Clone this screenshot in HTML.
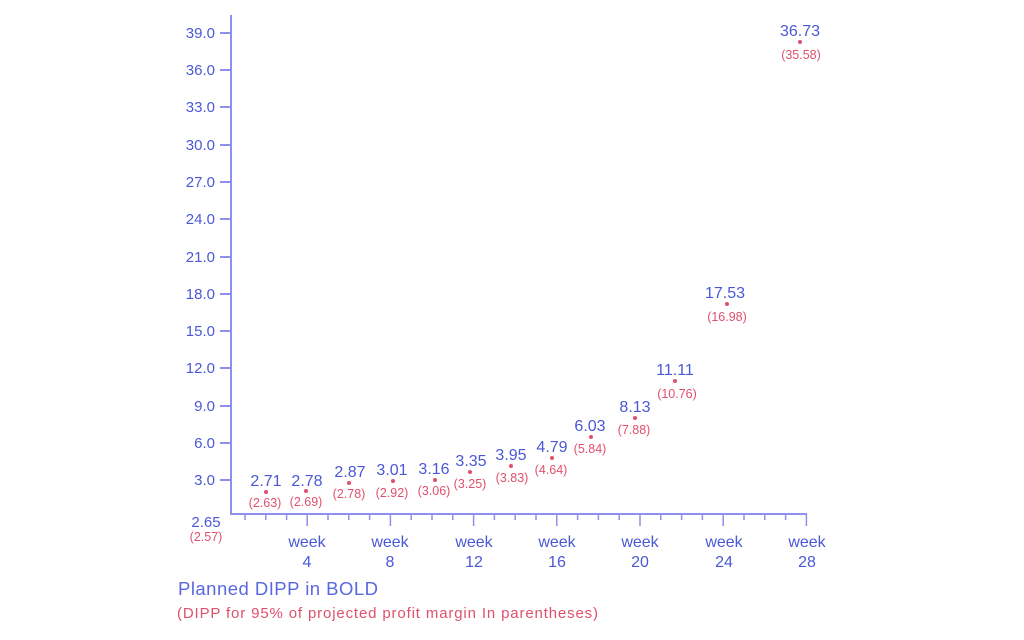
<!DOCTYPE html>
<html><head><meta charset="utf-8"><style>
html,body{margin:0;padding:0;background:#fff;width:1024px;height:640px;overflow:hidden}
svg{display:block;font-family:"Liberation Sans",sans-serif}
.b{fill:#4a58d6;font-size:16px;text-anchor:middle}
.r{fill:#e0506c;font-size:12.5px;text-anchor:middle}
.y{fill:#4a58d6;font-size:15px;text-anchor:end}
.w{fill:#4a58d6;font-size:16px;text-anchor:middle}
</style></head><body>
<svg width="1024" height="640" viewBox="0 0 1024 640">
<g stroke="#8e90ee" stroke-width="2" fill="none">
<path d="M231 15 V514 H807"/>
<path d="M220 33H231M220 70H231M220 107H231M220 145H231M220 182H231M220 219H231M220 257H231M220 294H231M220 331H231M220 368H231M220 406H231M220 443H231M220 480H231"/>
<path stroke-width="1.5" d="M245 514v6M265.8 514v6M286.6 514v6M307.2 514v12M328 514v6M348.8 514v6M369.6 514v6M390.4 514v12M411.2 514v6M432 514v6M452.8 514v6M473.6 514v12M494.4 514v6M515.2 514v6M536 514v6M556.8 514v12M577.6 514v6M598.4 514v6M619.2 514v6M640 514v12M660.8 514v6M681.6 514v6M702.4 514v6M723.2 514v12M744 514v6M764.8 514v6M785.6 514v6M806.4 514v12"/>
</g>
<g class="y">
<text x="215" y="38">39.0</text><text x="215" y="75">36.0</text><text x="215" y="112">33.0</text><text x="215" y="150">30.0</text><text x="215" y="187">27.0</text><text x="215" y="224">24.0</text><text x="215" y="262">21.0</text><text x="215" y="299">18.0</text><text x="215" y="336">15.0</text><text x="215" y="373">12.0</text><text x="215" y="411">9.0</text><text x="215" y="448">6.0</text><text x="215" y="485">3.0</text>
</g>
<text x="206" y="527" class="b" style="font-size:15px">2.65</text>
<text x="206" y="541" class="r">(2.57)</text>
<g class="w">
<text x="307" y="547">week</text><text x="307" y="567">4</text>
<text x="390" y="547">week</text><text x="390" y="567">8</text>
<text x="474" y="547">week</text><text x="474" y="567">12</text>
<text x="557" y="547">week</text><text x="557" y="567">16</text>
<text x="640" y="547">week</text><text x="640" y="567">20</text>
<text x="724" y="547">week</text><text x="724" y="567">24</text>
<text x="807" y="547">week</text><text x="807" y="567">28</text>
</g>
<g fill="#e0506c">
<circle cx="266" cy="492" r="2"/><circle cx="306" cy="491" r="2"/><circle cx="349" cy="483" r="2"/><circle cx="393" cy="481" r="2"/><circle cx="435" cy="480" r="2"/><circle cx="470" cy="472" r="2"/><circle cx="511" cy="466" r="2"/><circle cx="552" cy="458" r="2"/><circle cx="591" cy="437" r="2"/><circle cx="635" cy="418" r="2"/><circle cx="675" cy="381" r="2"/><circle cx="727" cy="304" r="2"/><circle cx="800" cy="42" r="2"/>
</g>
<g class="b">
<text x="266" y="486">2.71</text><text x="307" y="486">2.78</text><text x="350" y="477">2.87</text><text x="392" y="475">3.01</text><text x="434" y="474">3.16</text><text x="471" y="466">3.35</text><text x="511" y="460">3.95</text><text x="552" y="452">4.79</text><text x="590" y="431">6.03</text><text x="635" y="412">8.13</text><text x="675" y="375">11.11</text><text x="725" y="298">17.53</text><text x="800" y="36">36.73</text>
</g>
<g class="r">
<text x="265" y="507">(2.63)</text><text x="306" y="506">(2.69)</text><text x="349" y="498">(2.78)</text><text x="392" y="497">(2.92)</text><text x="434" y="495">(3.06)</text><text x="470" y="488">(3.25)</text><text x="512" y="482">(3.83)</text><text x="551" y="474">(4.64)</text><text x="590" y="453">(5.84)</text><text x="634" y="434">(7.88)</text><text x="677" y="398">(10.76)</text><text x="727" y="321">(16.98)</text><text x="801" y="59">(35.58)</text>
</g>
<text x="178" y="595" style="fill:#5a68e0;font-size:18.5px" textLength="200">Planned DIPP in BOLD</text>
<text x="177" y="618" style="fill:#e0506c;font-size:15px" textLength="421">(DIPP for 95% of projected  profit margin In parentheses)</text>
</svg>
</body></html>
